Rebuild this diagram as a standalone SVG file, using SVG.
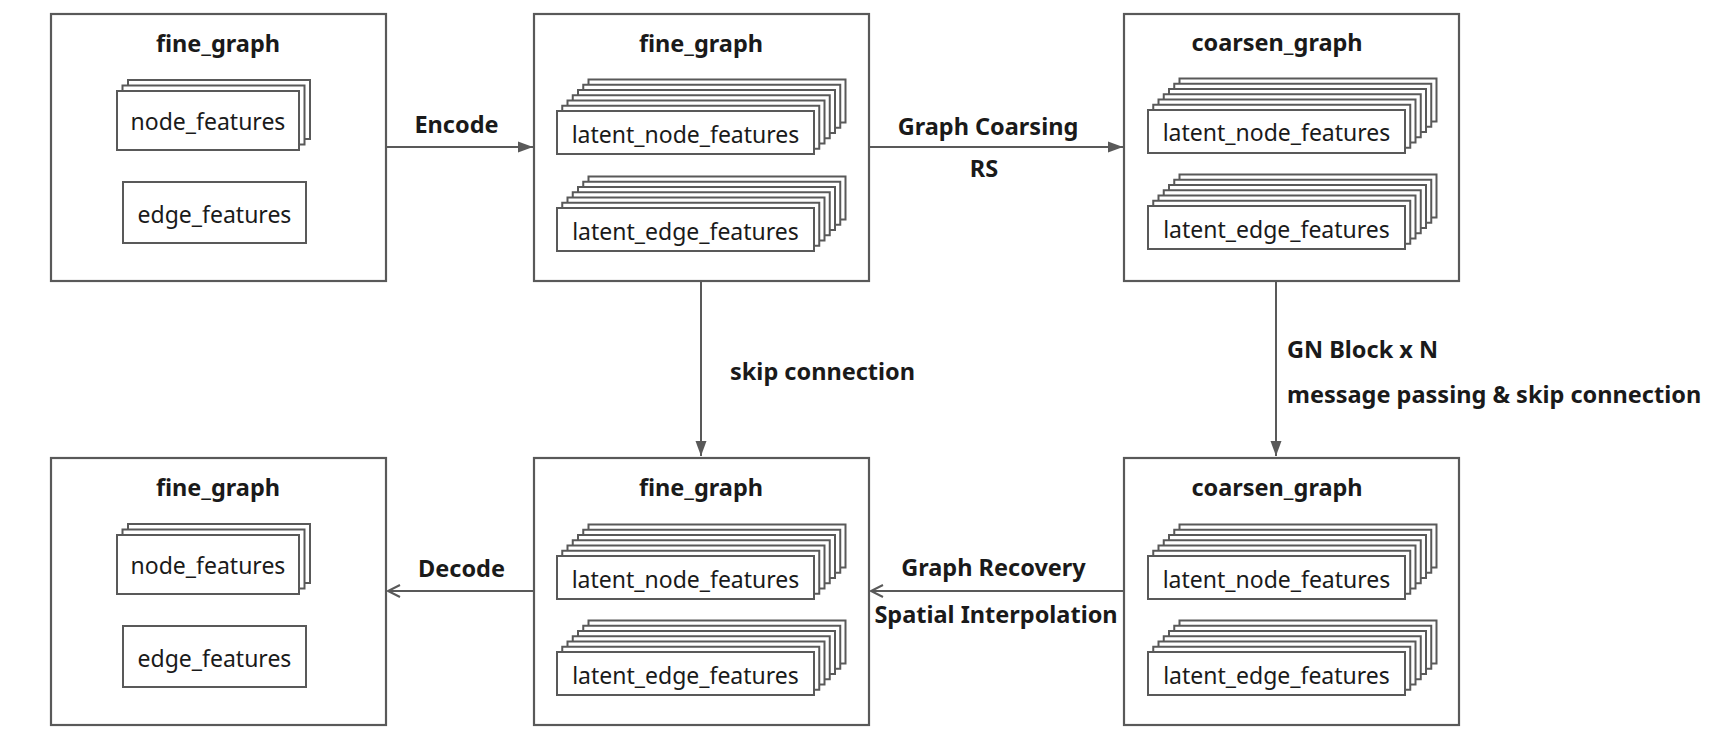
<svg xmlns="http://www.w3.org/2000/svg" width="1720" height="754" viewBox="0 0 1720 754">
  <style>
    .box { fill: #ffffff; stroke: #595959; stroke-width: 2.2; }
    .layer { fill: #ffffff; stroke: #595959; stroke-width: 2; }
    .title { font-family: "Noto Sans", "Open Sans", sans-serif; font-weight: bold; font-size: 23.5px; fill: #1a1a1a; text-anchor: middle; }
    .lbl { font-family: "Noto Sans", "Open Sans", sans-serif; font-size: 23px; fill: #1a1a1a; text-anchor: middle; }
    .elbl { font-family: "Noto Sans", "Open Sans", sans-serif; font-weight: bold; font-size: 23.5px; fill: #1a1a1a; }
    .conn { fill: none; stroke: #595959; stroke-width: 2; }
  </style>
  <defs>
    <marker id="tri" markerUnits="userSpaceOnUse" markerWidth="16" markerHeight="12" refX="15" refY="6" orient="auto">
      <path d="M0,0.5 L15,6 L0,11.5 Z" fill="#595959"/>
    </marker>
    <marker id="chev" markerUnits="userSpaceOnUse" markerWidth="16" markerHeight="16" refX="13" refY="7" orient="auto">
      <path d="M1,1 L13,7 L1,13" fill="none" stroke="#595959" stroke-width="2"/>
    </marker>
    <g id="latentStack">
      <rect class="layer" x="31.5" y="-31.5" width="257" height="43"/>
      <rect class="layer" x="26.25" y="-26.25" width="257" height="43"/>
      <rect class="layer" x="21" y="-21" width="257" height="43"/>
      <rect class="layer" x="15.75" y="-15.75" width="257" height="43"/>
      <rect class="layer" x="10.5" y="-10.5" width="257" height="43"/>
      <rect class="layer" x="5.25" y="-5.25" width="257" height="43"/>
      <rect class="layer" x="0" y="0" width="257" height="43"/>
    </g>
    <g id="nodeStack">
      <rect class="layer" x="11" y="-11" width="182" height="59"/>
      <rect class="layer" x="5.5" y="-5.5" width="182" height="59"/>
      <rect class="layer" x="0" y="0" width="182" height="59"/>
    </g>
  </defs>

  <g id="connectors">
    <line class="conn" x1="386" y1="147" x2="533" y2="147" marker-end="url(#tri)"/>
    <line class="conn" x1="869" y1="147" x2="1123" y2="147" marker-end="url(#tri)"/>
    <line class="conn" x1="701" y1="281" x2="701" y2="456" marker-end="url(#tri)"/>
    <line class="conn" x1="1276" y1="281" x2="1276" y2="456" marker-end="url(#tri)"/>
    <line class="conn" x1="1124" y1="591" x2="871" y2="591" marker-end="url(#chev)"/>
    <line class="conn" x1="534" y1="591" x2="388" y2="591" marker-end="url(#chev)"/>
    <text class="elbl" x="456.5" y="133" text-anchor="middle">Encode</text>
    <text class="elbl" x="988" y="135" text-anchor="middle">Graph Coarsing</text>
    <text class="elbl" x="984" y="177" text-anchor="middle">RS</text>
    <text class="elbl" x="730" y="380">skip connection</text>
    <text class="elbl" x="1287" y="358">GN Block x N</text>
    <text class="elbl" x="1287" y="403">message passing &amp; skip connection</text>
    <text class="elbl" x="461.5" y="577" text-anchor="middle">Decode</text>
    <text class="elbl" x="993.5" y="576" text-anchor="middle">Graph Recovery</text>
    <text class="elbl" x="996" y="623" text-anchor="middle">Spatial Interpolation</text>
  </g>

  <g id="fine_graph_input">
    <rect class="box" x="51" y="14" width="335" height="267"/>
    <text class="title" x="218" y="52">fine_graph</text>
    <use href="#nodeStack" x="117" y="91"/>
    <text class="lbl" x="208" y="130">node_features</text>
    <rect class="layer" x="123" y="182" width="183" height="61"/>
    <text class="lbl" x="214.5" y="222.5">edge_features</text>
  </g>

  <g id="fine_graph_latent">
    <rect class="box" x="534" y="14" width="335" height="267"/>
    <text class="title" x="701" y="52">fine_graph</text>
    <use href="#latentStack" x="557" y="111"/>
    <text class="lbl" x="685.5" y="143">latent_node_features</text>
    <use href="#latentStack" x="557" y="208"/>
    <text class="lbl" x="685.5" y="239.5">latent_edge_features</text>
  </g>

  <g id="coarsen_graph_top">
    <rect class="box" x="1124" y="14" width="335" height="267"/>
    <text class="title" x="1277" y="51">coarsen_graph</text>
    <use href="#latentStack" x="1148" y="110"/>
    <text class="lbl" x="1276.5" y="141">latent_node_features</text>
    <use href="#latentStack" x="1148" y="206"/>
    <text class="lbl" x="1276.5" y="237.5">latent_edge_features</text>
  </g>

  <g id="fine_graph_output">
    <rect class="box" x="51" y="458" width="335" height="267"/>
    <text class="title" x="218" y="496">fine_graph</text>
    <use href="#nodeStack" x="117" y="535"/>
    <text class="lbl" x="208" y="574">node_features</text>
    <rect class="layer" x="123" y="626" width="183" height="61"/>
    <text class="lbl" x="214.5" y="666.5">edge_features</text>
  </g>

  <g id="fine_graph_recovered">
    <rect class="box" x="534" y="458" width="335" height="267"/>
    <text class="title" x="701" y="496">fine_graph</text>
    <use href="#latentStack" x="557" y="556"/>
    <text class="lbl" x="685.5" y="588">latent_node_features</text>
    <use href="#latentStack" x="557" y="652"/>
    <text class="lbl" x="685.5" y="683.5">latent_edge_features</text>
  </g>

  <g id="coarsen_graph_bottom">
    <rect class="box" x="1124" y="458" width="335" height="267"/>
    <text class="title" x="1277" y="496">coarsen_graph</text>
    <use href="#latentStack" x="1148" y="556"/>
    <text class="lbl" x="1276.5" y="588">latent_node_features</text>
    <use href="#latentStack" x="1148" y="652"/>
    <text class="lbl" x="1276.5" y="683.5">latent_edge_features</text>
  </g>
</svg>
